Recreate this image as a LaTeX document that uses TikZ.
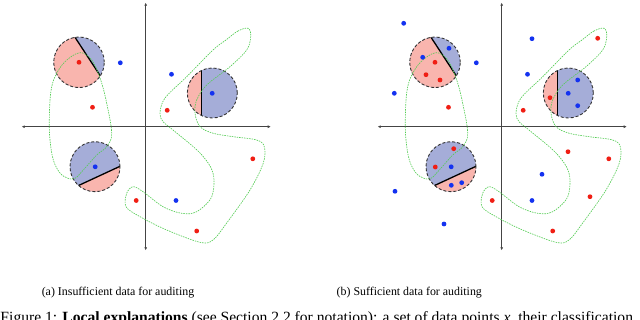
\documentclass[tikz,border=0pt]{standalone}
\usepackage{fontspec}
\setmainfont{Liberation Serif}
\usetikzlibrary{arrows.meta}
\definecolor{cpink}{HTML}{F9B5AE}
\definecolor{cblue}{HTML}{A5ADD8}
\definecolor{dred}{HTML}{F01E14}
\definecolor{dblue}{HTML}{1432F0}
\definecolor{cgreen}{HTML}{55CC55}
\definecolor{caxis}{HTML}{444444}
\tikzset{
  axisline/.style={draw=caxis,line width=1.1pt,{Latex[length=3pt,width=3pt]}-{Latex[length=3pt,width=3pt]}},
  cborder/.style={draw=black!80,line width=0.9pt,dash pattern=on 3pt off 2pt},
  splitline/.style={draw=black,line width=1.3pt},
  loopline/.style={draw=cgreen,line width=0.65pt,dash pattern=on 1.5pt off 1pt},
  reddot/.style={fill=dred},
  bluedot/.style={fill=dblue},
  captext/.style={font=\fontsize{11.9}{14}\selectfont,inner sep=0pt},
  figtext/.style={font=\fontsize{15.6}{18}\selectfont,inner sep=0pt}
}
\newcommand\rdot[1]{\fill[reddot] (#1) circle[radius=2.4pt];}
\newcommand\bdot[1]{\fill[bluedot] (#1) circle[radius=2.4pt];}
\newcommand\panelbase{%
  % axes
  \coordinate (xl) at (21.7,126.7);
  \coordinate (xr) at (270.7,126.7);
  \coordinate (yt) at (145.7,2.7);
  \coordinate (yb) at (145.7,250.3);
  \draw[axisline] (xl) -- (xr);
  \draw[axisline] (yb) -- (yt);
  % circle 1
  \coordinate (c1) at (79,62.3);
  \begin{scope}
    \clip (c1) circle[radius=25.3pt];
    \fill[cblue] (c1) circle[radius=25.3pt];
    \fill[cpink] (50.3,-0.4) -- (124.4,112.7) -- (49,162.1) -- (-25.1,49) -- cycle;
    \draw[splitline] (50.3,-0.4) -- (124.4,112.7);
  \end{scope}
  \draw[cborder] (c1) circle[radius=25.3pt];
  % circle 2
  \coordinate (c2) at (212.3,93);
  \begin{scope}
    \clip (c2) circle[radius=25pt];
    \fill[cblue] (c2) circle[radius=25pt];
    \fill[cpink] (170,60) rectangle (201.7,130);
    \draw[splitline] (201.7,60) -- (201.7,130);
  \end{scope}
  \draw[cborder] (c2) circle[radius=25pt];
  % circle 3
  \coordinate (c3) at (95,166.7);
  \begin{scope}
    \clip (c3) circle[radius=25pt];
    \fill[cblue] (c3) circle[radius=25pt];
    \fill[cpink] (38,204.3) -- (161,147.3) -- (199,229.3) -- (76,286.3) -- cycle;
    \draw[splitline] (38,204.3) -- (161,147.3);
  \end{scope}
  \draw[cborder] (c3) circle[radius=25pt];
  % loops
  \draw[loopline] plot[smooth cycle,tension=0.6] coordinates {
    (80,52.7) (91.7,60) (100,78) (106,100) (111.7,133) (106.7,146.7) (96.7,155)
    (83.3,170) (75,178.3) (68,178.3) (60,173) (53.3,160) (50,140) (49.3,120)
    (50.7,93) (55,76.7) (65,61.7)};
  \draw[loopline] plot[smooth cycle,tension=0.55] coordinates {
    (248.3,28.3) (238,31) (226,40) (213,50) (186.7,76.7) (165,98) (160,113) (163,121.7)
    (173,130) (200,153) (213,173) (211.7,196.7) (196.7,211.7) (181.7,213.3)
    (163,206.7) (143,191.7) (133,186.7) (126.7,193.3) (126,206.7) (140,216.7)
    (166.7,230) (200,242.3) (213,240) (226.7,223) (250,190) (263.3,163)
    (264.3,146.7) (256.7,140) (233.3,136.7) (213.3,133.3) (200,126.7) (195,113.3)
    (196.7,100) (206.7,85) (230,66.7) (246.7,50) (250.7,36.7)};
  % base dots
  \rdot{79,62.3}
  \bdot{120.3,62.8}
  \bdot{171.5,74.3}
  \rdot{92.5,107.3}
  \rdot{167.2,110.3}
  \bdot{212.2,93.3}
  \bdot{95.2,166.8}
  \rdot{252.8,158.8}
  \rdot{136.2,200.5}
  \bdot{176,200.5}
  \rdot{196.7,231}
}
\begin{document}
\begin{tikzpicture}[x=1pt,y=-1pt]
  \useasboundingbox (0,0) rectangle (640,320);
  \begin{scope}
    \panelbase
  \end{scope}
  \begin{scope}[xshift=356pt]
    \panelbase
    \bdot{47.7,23.3}
    \bdot{66.7,57.3}
    \bdot{93,48.3}
    \rdot{70,74.7}
    \rdot{84,80}
    \bdot{38.3,93.3}
    \bdot{176,38.7}
    \rdot{241.7,38.3}
    \bdot{221.7,80}
    \rdot{194,97.7}
    \bdot{221.7,105.7}
    \rdot{97.7,148.7}
    \rdot{79.3,167}
    \bdot{95.3,185.3}
    \bdot{105.7,182.7}
    \bdot{39,191.3}
    \bdot{88,224}
    \rdot{212,151.7}
    \bdot{186,174.3}
    \rdot{234,196.7}
  \end{scope}
  \node[captext,anchor=base] (capa) at (118,296) {(a) Insufficient data for auditing};
  \node[captext,anchor=base] (capb) at (409.3,296) {(b) Sufficient data for auditing};
  \node[figtext,anchor=base west] (fig) at (0.3,323) {Figure 1: \textbf{Local explanations} (see Section 2.2 for notation): a set of data points \textit{x}, their classification};
\end{tikzpicture}
\end{document}
